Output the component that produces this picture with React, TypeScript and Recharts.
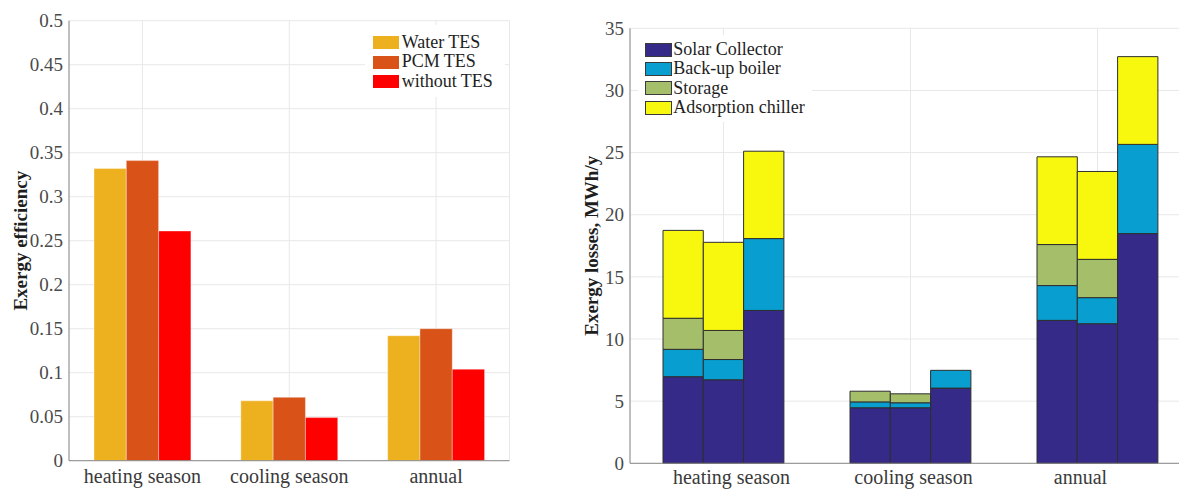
import React from 'react';
import { BarChart, Bar, XAxis, YAxis, CartesianGrid, Legend } from 'recharts';

// ---------- data ----------
const categories = ['heating season', 'cooling season', 'annual'];

// Left chart: exergy efficiency
const effTicks = [0, 0.05, 0.1, 0.15, 0.2, 0.25, 0.3, 0.35, 0.4, 0.45, 0.5];
const effSeriesNames = ['Water TES', 'PCM TES', 'without TES'];
const waterTES = [0.332, 0.068, 0.142];
const pcmTES = [0.341, 0.072, 0.15];
const withoutTES = [0.261, 0.049, 0.104];

// Right chart: exergy losses (MWh/y), three configurations per category
const lossTicks = [0, 5, 10, 15, 20, 25, 30, 35];
const lossComponentNames = ['Solar Collector', 'Back-up boiler', 'Storage', 'Adsorption chiller'];
// configuration 1 (Water TES)
const solarCollector1 = [6.97, 4.47, 11.5];
const backupBoiler1 = [2.2, 0.47, 2.8];
const storage1 = [2.5, 0.86, 3.3];
const adsorptionChiller1 = [7.07, 0, 7.06];
// configuration 2 (PCM TES)
const solarCollector2 = [6.72, 4.47, 11.23];
const backupBoiler2 = [1.63, 0.4, 2.1];
const storage2 = [2.34, 0.72, 3.08];
const adsorptionChiller2 = [7.09, 0, 7.07];
// configuration 3 (without TES)
const solarCollector3 = [12.3, 6.05, 18.48];
const backupBoiler3 = [5.78, 1.43, 7.18];
const storage3 = [0, 0, 0];
const adsorptionChiller3 = [7.03, 0, 7.06];

// ---------- styles ----------
const FONT = '"Liberation Serif", "Times New Roman", serif';
const effColors = ['#EDB120', '#D95319', '#FF0000'];
const lossColors = ['#352A87', '#089ECF', '#A5BE6A', '#F8F80F'];
const AXIS = '#8a8a8a';
const GRID = '#e8e8e8';

const effData = categories.map((c, i) => ({
  category: c,
  water: waterTES[i],
  pcm: pcmTES[i],
  without: withoutTES[i],
}));

const lossConfigs = [
  [solarCollector1, backupBoiler1, storage1, adsorptionChiller1],
  [solarCollector2, backupBoiler2, storage2, adsorptionChiller2],
  [solarCollector3, backupBoiler3, storage3, adsorptionChiller3],
];
const compKeys = ['solar', 'boiler', 'storage', 'chiller'];
const lossData = categories.map((c, i) => {
  const row: Record<string, any> = { category: c };
  lossConfigs.forEach((cfg, k) => {
    cfg.forEach((arr, j) => {
      row[`c${k + 1}_${compKeys[j]}`] = arr[i];
    });
  });
  return row;
});

const CatTick = (props: any) => {
  const { x, y, payload, index, offsets } = props;
  const dx = offsets ? offsets[index] || 0 : 0;
  return (
    <text
      x={x + dx}
      y={y}
      dy="0.71em"
      textAnchor="middle"
      fontFamily={FONT}
      fontSize={20}
      fill="#3a3a3a"
    >
      {payload.value}
    </text>
  );
};

const LegendBox = (props: any) => {
  const { names, colors, bordered, pad, rowH, swW, swH, gap, fontSize } = props;
  return (
    <div
      style={{
        width: '100%',
        height: '100%',
        background: '#fff',
        boxSizing: 'border-box',
        padding: pad,
        fontFamily: FONT,
        fontSize,
        color: '#1e1e1e',
        textAlign: 'left',
      }}
    >
      {names.map((n: string, i: number) => (
        <div key={n} style={{ display: 'flex', alignItems: 'center', height: rowH, lineHeight: `${rowH}px`, whiteSpace: 'nowrap' }}>
          <span
            style={{
              display: 'inline-block',
              width: swW,
              height: swH,
              background: colors[i],
              border: bordered ? '1.5px solid #3a3a3a' : 'none',
              boxSizing: 'border-box',
              marginRight: gap,
              flex: 'none',
            }}
          />
          <span>{n}</span>
        </div>
      ))}
    </div>
  );
};

const EffLabel = (props: any) => {
  const vb = props.viewBox || {};
  const cx = vb.x + 21;
  const cy = vb.y + vb.height / 2;
  return (
    <text
      x={cx}
      y={cy}
      transform={`rotate(-90, ${cx}, ${cy})`}
      textAnchor="middle"
      dominantBaseline="central"
      fontFamily={FONT}
      fontSize={19}
      fontWeight="bold"
      fill="#1e1e1e"
    >
      Exergy efficiency
    </text>
  );
};

const LossLabel = (props: any) => {
  const vb = props.viewBox || {};
  const cx = vb.x + 12;
  const cy = vb.y + vb.height / 2;
  return (
    <text
      x={cx}
      y={cy}
      transform={`rotate(-90, ${cx}, ${cy})`}
      textAnchor="middle"
      dominantBaseline="central"
      fontFamily={FONT}
      fontSize={19}
      fontWeight="bold"
      fill="#1e1e1e"
    >
      Exergy losses, MWh/y
    </text>
  );
};

const tickStyle = { fontFamily: FONT, fontSize: 19, fill: '#4a4a4a' };

const EfficiencyChart = () => (
  <BarChart
    width={560}
    height={491}
    data={effData}
    margin={{ top: 20.7, right: 50.5, bottom: 0, left: 0 }}
    barGap={0}
    barSize={32.3}
  >
    <CartesianGrid stroke={GRID} />
    <XAxis
      dataKey="category"
      height={30.3}
      interval={0}
      axisLine={{ stroke: AXIS }}
      tickLine={false}
      tickSize={0}
      tickMargin={8}
      tick={<CatTick />}
    />
    <XAxis xAxisId="top" orientation="top" dataKey="category" height={0} tick={false} tickLine={false} axisLine={{ stroke: AXIS }} />
    <YAxis
      width={69}
      domain={[0, 0.5]}
      ticks={effTicks}
      interval={0}
      axisLine={{ stroke: AXIS }}
      tickLine={false}
      tickSize={4}
      tickMargin={2}
      tick={tickStyle}
      label={<EffLabel />}
    />
    <YAxis
      yAxisId="right"
      orientation="right"
      width={0}
      mirror
      domain={[0, 0.5]}
      ticks={effTicks}
      tick={false}
      tickLine={{ stroke: AXIS }}
      tickSize={4}
      axisLine={{ stroke: AXIS }}
    />
    <Legend
      layout="vertical"
      verticalAlign="middle"
      align="center"
      wrapperStyle={{ position: 'absolute', left: 365, top: 25, width: 140, height: 72, margin: 0 }}
      content={() => (
        <LegendBox
          names={effSeriesNames}
          colors={effColors}
          bordered={false}
          pad="7.75px 0 0 7.7px"
          rowH={19.5}
          swW={26.6}
          swH={13}
          gap={2.4}
          fontSize={18}
        />
      )}
    />
    <Bar dataKey="water" name={effSeriesNames[0]} fill={effColors[0]} stroke="#ffffff" strokeOpacity={0.35} isAnimationActive={false} />
    <Bar dataKey="pcm" name={effSeriesNames[1]} fill={effColors[1]} stroke="#ffffff" strokeOpacity={0.35} isAnimationActive={false} />
    <Bar dataKey="without" name={effSeriesNames[2]} fill={effColors[2]} stroke="#ffffff" strokeOpacity={0.35} isAnimationActive={false} />
  </BarChart>
);

const lossLabelOffsets = [8, 3, -17];

const LossesChart = () => (
  <BarChart
    width={620}
    height={491}
    data={lossData}
    margin={{ top: 28.3, right: 9, bottom: 0, left: 0 }}
    barGap={0}
    barSize={40.3}
  >
    <CartesianGrid stroke={GRID} />
    <XAxis
      dataKey="category"
      height={27.7}
      interval={0}
      axisLine={{ stroke: AXIS }}
      tickLine={false}
      tickSize={0}
      tickMargin={6}
      tick={<CatTick offsets={lossLabelOffsets} />}
    />
    <YAxis
      width={50}
      domain={[0, 35]}
      ticks={lossTicks}
      interval={0}
      axisLine={{ stroke: AXIS }}
      tickLine={false}
      tickSize={4}
      tickMargin={2}
      tick={tickStyle}
      label={<LossLabel />}
    />
    <Legend
      layout="vertical"
      verticalAlign="middle"
      align="center"
      wrapperStyle={{ position: 'absolute', left: 58, top: 35, width: 174, height: 87, margin: 0 }}
      content={() => (
        <LegendBox
          names={lossComponentNames}
          colors={lossColors}
          bordered
          pad="5px 0 0 7px"
          rowH={19.3}
          swW={26.7}
          swH={14}
          gap={1.6}
          fontSize={18}
        />
      )}
    />
    {[1, 2, 3].map((k) =>
      compKeys.map((ck, j) => (
        <Bar
          key={`c${k}_${ck}`}
          dataKey={`c${k}_${ck}`}
          stackId={`cfg${k}`}
          name={lossComponentNames[j]}
          fill={lossColors[j]}
          stroke="#2e2e2e"
          strokeWidth={1}
          isAnimationActive={false}
        />
      ))
    )}
  </BarChart>
);

export default function App() {
  return (
    <div
      style={{
        position: 'absolute',
        left: 0,
        top: 0,
        width: 1179,
        height: 491,
        overflow: 'hidden',
        background: '#fff',
      }}
    >
      <div style={{ position: 'absolute', left: 0, top: 0 }}>
        <EfficiencyChart />
      </div>
      <div style={{ position: 'absolute', left: 580, top: 0 }}>
        <LossesChart />
      </div>
    </div>
  );
}
